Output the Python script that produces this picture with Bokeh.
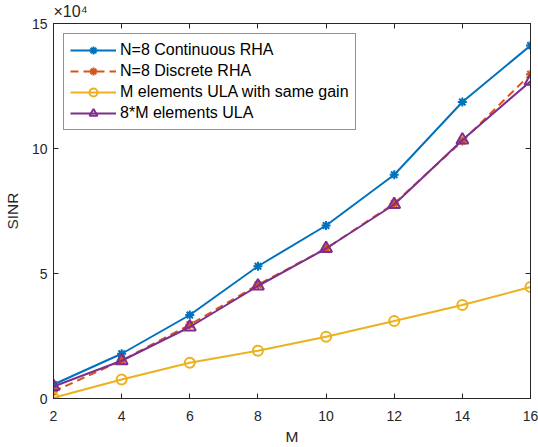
from bokeh.plotting import figure
from bokeh.models import (LinearAxis, Range1d, Legend, LegendItem, FixedTicker,
                          CustomLabelingPolicy, Title)
from bokeh.embed import file_html
from bokeh.resources import INLINE

# data (SINR values)
M = [2, 4, 6, 8, 10, 12, 14, 16]
sinr_cont = [5600, 17900, 33400, 52900, 69200, 89500, 118600, 141200]
sinr_disc = [2800, 15200, 29500, 45500, 60000, 78000, 103000, 129700]
sinr_ula_same = [300, 7600, 14300, 19100, 24700, 31000, 37400, 44600]
sinr_ula_8m = [4800, 15100, 28600, 45000, 60000, 77600, 103400, 126900]
x_ticks = [2, 4, 6, 8, 10, 12, 14, 16]
y_ticks = [0, 5, 10, 15]
scale = 1e4

names = ["N=8 Continuous RHA", "N=8 Discrete RHA",
         "M elements ULA with same gain", "8*M elements ULA"]

FONT = "Liberation Sans"
TXT = "#262626"

p = figure(width=538, height=447, output_backend="svg", toolbar_location=None,
           x_range=Range1d(2, 16), y_range=Range1d(0, 15),
           min_border_left=52, min_border_top=23, min_border_right=8,
           min_border_bottom=47)
p.xgrid.visible = False
p.ygrid.visible = False
p.outline_line_color = TXT
p.outline_line_width = 1

def s(v):
    return [a / scale for a in v]

blue, orange, yellow, purple = "#0072BD", "#D95319", "#EDB120", "#7E2F8E"

r1l = p.line(M, s(sinr_cont), line_color=blue, line_width=2)
r1m = p.scatter(M, s(sinr_cont), marker="asterisk", size=9, line_color=blue, line_width=2)
r2l = p.line(M, s(sinr_disc), line_color=orange, line_width=2, line_dash="8 5")
r2m = p.scatter(M, s(sinr_disc), marker="asterisk", size=9, line_color=orange, line_width=2)
r3l = p.line(M, s(sinr_ula_same), line_color=yellow, line_width=2)
r3m = p.scatter(M, s(sinr_ula_same), marker="circle", size=10, line_color=yellow,
                fill_color=None, line_width=2)
r4l = p.line(M, s(sinr_ula_8m), line_color=purple, line_width=2)
r4m = p.scatter(M, s(sinr_ula_8m), marker="triangle", size=12, line_color=purple,
                fill_color=None, line_width=2)

for ax in (p.xaxis[0], p.yaxis[0]):
    ax.major_tick_in = 5
    ax.major_tick_out = 0
    ax.minor_tick_line_color = None
    ax.axis_line_color = TXT
    ax.major_tick_line_color = TXT
    ax.major_label_text_font = FONT
    ax.major_label_text_font_size = "14px"
    ax.major_label_text_color = TXT
    ax.axis_label_text_font = FONT
    ax.axis_label_text_font_size = "15.5px"
    ax.axis_label_text_font_style = "normal"
    ax.axis_label_text_color = TXT
p.xaxis[0].ticker = FixedTicker(ticks=x_ticks)
p.yaxis[0].ticker = FixedTicker(ticks=y_ticks)
p.xaxis[0].axis_label = "M"
p.yaxis[0].axis_label = "SINR"
p.xaxis[0].axis_label_standoff = 4
p.yaxis[0].axis_label_standoff = 8
p.xaxis[0].major_label_standoff = 12
p.yaxis[0].major_label_standoff = 6

no_labels = CustomLabelingPolicy(code="return new Set()")
top = LinearAxis(ticker=FixedTicker(ticks=x_ticks), major_label_policy=no_labels,
                 major_label_text_font_size="1px", major_label_standoff=0,
                 major_tick_in=5, major_tick_out=0, minor_tick_line_color=None,
                 axis_line_color=TXT, major_tick_line_color=TXT)
right = LinearAxis(ticker=FixedTicker(ticks=y_ticks), major_label_policy=no_labels,
                   major_label_text_font_size="1px", major_label_standoff=0,
                   major_tick_in=5, major_tick_out=0, minor_tick_line_color=None,
                   axis_line_color=TXT, major_tick_line_color=TXT)
p.add_layout(top, "above")
p.add_layout(right, "right")

# exponent marker above the y axis
p.add_layout(Title(text="×10⁴", text_font=FONT, text_font_size="16px",
                   text_font_style="normal", text_color=TXT, align="left",
                   offset=0, standoff=0), "above")

legend = Legend(items=[
    LegendItem(label=names[0], renderers=[r1l, r1m]),
    LegendItem(label=names[1], renderers=[r2l, r2m]),
    LegendItem(label=names[2], renderers=[r3l, r3m]),
    LegendItem(label=names[3], renderers=[r4l, r4m]),
], location="top_left")
legend.label_text_font = FONT
legend.label_text_font_size = "16px"
legend.label_text_color = "black"
legend.glyph_width = 46
legend.glyph_height = 20
legend.label_height = 20
legend.spacing = 1
legend.padding = 6
legend.margin = 10
legend.label_standoff = 4
legend.border_line_color = TXT
legend.border_line_width = 1
legend.background_fill_alpha = 1
p.add_layout(legend)

open("out.html", "w").write(file_html(p, INLINE))
